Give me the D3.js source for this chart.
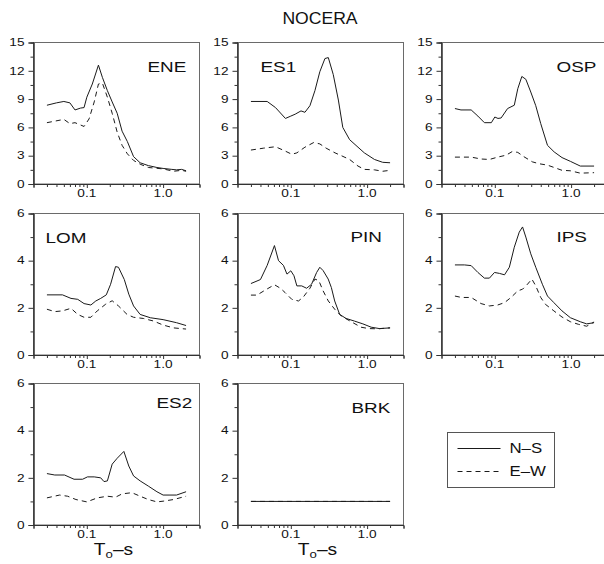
<!DOCTYPE html>
<html>
<head>
<meta charset="utf-8">
<script src="https://cdn.jsdelivr.net/npm/d3@7"></script>
<style>
  body { margin: 0; background: #fff; }
  svg { display: block; font-family: "Liberation Sans", Arial, Helvetica, sans-serif; }
</style>
</head>
<body>
<svg id="chart" width="604" height="564"></svg>
<script>
// Spectral ratios per station: [period (s), amplitude]
const ENE_NS = [[0.03,8.35],[0.04,8.6],[0.05,8.75],[0.06,8.6],[0.07,7.85],[0.083,8.05],[0.092,8.1],[0.1,9.2],[0.118,10.6],[0.142,12.6],[0.16,11.3],[0.186,9.9],[0.215,8.7],[0.25,7.5],[0.29,5.6],[0.34,4.5],[0.41,2.9],[0.5,2.25],[0.64,1.95],[0.83,1.75],[1.0,1.65],[1.3,1.55],[1.5,1.5],[1.75,1.55],[2.0,1.4]];
const ENE_EW = [[0.03,6.5],[0.05,6.85],[0.06,6.4],[0.07,6.5],[0.092,6.1],[0.107,6.9],[0.125,8.7],[0.142,10.6],[0.16,10.7],[0.186,9.2],[0.215,7.5],[0.25,5.5],[0.29,4.1],[0.34,3.2],[0.41,2.5],[0.5,2.1],[0.64,1.75],[1.0,1.6],[1.37,1.35],[1.75,1.45],[2.0,1.35]];
const ES1_NS = [[0.03,8.75],[0.049,8.75],[0.063,8.1],[0.085,6.95],[0.1,7.2],[0.114,7.4],[0.136,7.75],[0.153,7.6],[0.178,8.3],[0.207,9.9],[0.24,11.9],[0.28,13.3],[0.31,13.4],[0.36,11.6],[0.42,8.9],[0.48,6.0],[0.59,4.7],[0.76,3.9],[0.92,3.3],[1.25,2.6],[1.6,2.3],[2.0,2.25]];
const ES1_EW = [[0.03,3.6],[0.044,3.8],[0.063,3.95],[0.084,3.5],[0.103,3.15],[0.12,3.3],[0.153,3.9],[0.2,4.4],[0.24,4.25],[0.29,3.8],[0.38,3.3],[0.46,3.0],[0.59,2.6],[0.76,1.9],[0.92,1.55],[1.25,1.5],[1.6,1.35],[2.0,1.45]];
const OSP_NS = [[0.03,8.0],[0.036,7.85],[0.049,7.85],[0.06,7.2],[0.073,6.5],[0.09,6.5],[0.1,7.1],[0.11,6.95],[0.121,7.0],[0.147,8.0],[0.18,8.35],[0.2,10.1],[0.226,11.4],[0.255,11.1],[0.296,9.75],[0.344,8.3],[0.4,6.4],[0.49,4.1],[0.6,3.4],[0.76,2.8],[0.98,2.4],[1.32,1.9],[2.0,1.9]];
const OSP_EW = [[0.03,2.85],[0.049,2.85],[0.066,2.65],[0.085,2.6],[0.109,2.85],[0.14,3.05],[0.17,3.45],[0.2,3.35],[0.24,2.9],[0.31,2.35],[0.38,2.15],[0.49,2.0],[0.6,1.75],[0.76,1.45],[0.98,1.4],[1.32,1.15],[2.0,1.2]];
const LOM_NS = [[0.03,2.55],[0.048,2.55],[0.062,2.4],[0.076,2.36],[0.092,2.18],[0.113,2.12],[0.131,2.29],[0.152,2.4],[0.18,2.55],[0.205,3.0],[0.238,3.75],[0.26,3.72],[0.31,3.2],[0.355,2.58],[0.41,2.08],[0.5,1.72],[0.68,1.58],[1.0,1.5],[1.5,1.37],[2.0,1.25]];
const LOM_EW = [[0.03,1.94],[0.038,1.84],[0.048,1.87],[0.062,1.98],[0.076,1.72],[0.092,1.6],[0.113,1.6],[0.137,1.87],[0.176,2.15],[0.215,2.3],[0.26,2.08],[0.337,1.72],[0.41,1.6],[0.55,1.55],[0.75,1.44],[1.0,1.27],[1.37,1.15],[2.0,1.1]];
const PIN_NS = [[0.03,3.03],[0.04,3.2],[0.049,3.8],[0.061,4.64],[0.069,4.0],[0.08,3.8],[0.089,3.43],[0.1,3.57],[0.11,3.36],[0.12,2.93],[0.139,2.93],[0.161,2.83],[0.187,3.0],[0.218,3.5],[0.24,3.72],[0.265,3.58],[0.309,3.22],[0.34,2.86],[0.376,2.29],[0.437,1.72],[0.53,1.55],[0.68,1.44],[0.88,1.32],[1.13,1.18],[1.45,1.12],[2.0,1.15]];
const PIN_EW = [[0.03,2.54],[0.036,2.54],[0.046,2.75],[0.061,2.98],[0.073,2.83],[0.084,2.65],[0.103,2.36],[0.126,2.29],[0.146,2.46],[0.178,2.83],[0.207,3.22],[0.233,3.15],[0.265,2.72],[0.31,2.29],[0.376,1.94],[0.46,1.65],[0.62,1.41],[0.83,1.18],[1.05,1.12],[1.37,1.11],[2.0,1.15]];
const IPS_NS = [[0.03,3.82],[0.04,3.82],[0.049,3.79],[0.06,3.5],[0.073,3.26],[0.085,3.26],[0.099,3.5],[0.115,3.46],[0.134,3.4],[0.155,3.72],[0.18,4.57],[0.209,5.21],[0.231,5.43],[0.255,5.0],[0.296,4.29],[0.344,3.72],[0.42,3.0],[0.49,2.5],[0.595,2.22],[0.76,1.87],[0.98,1.58],[1.32,1.41],[1.6,1.32],[2.0,1.37]];
const IPS_EW = [[0.03,2.5],[0.0365,2.44],[0.049,2.44],[0.066,2.18],[0.085,2.08],[0.109,2.12],[0.134,2.22],[0.163,2.44],[0.2,2.72],[0.231,2.79],[0.268,3.0],[0.306,3.22],[0.344,2.93],[0.4,2.44],[0.46,2.15],[0.595,1.87],[0.76,1.61],[0.98,1.41],[1.25,1.3],[1.6,1.22],[2.0,1.4]];
const ES2_NS = [[0.03,2.18],[0.038,2.12],[0.051,2.12],[0.068,1.94],[0.088,1.94],[0.102,2.04],[0.125,2.04],[0.152,2.0],[0.168,1.84],[0.186,1.87],[0.215,2.58],[0.25,2.83],[0.306,3.12],[0.355,2.5],[0.41,2.08],[0.5,1.87],[0.64,1.65],[0.83,1.41],[1.0,1.27],[1.23,1.27],[1.5,1.27],[2.0,1.41]];
const ES2_EW = [[0.03,1.15],[0.044,1.27],[0.056,1.22],[0.072,1.08],[0.1,0.98],[0.137,1.15],[0.186,1.22],[0.238,1.18],[0.29,1.32],[0.39,1.37],[0.5,1.22],[0.64,1.08],[0.83,0.98],[1.0,1.01],[1.37,1.08],[2.0,1.22]];
const BRK_NS = [[0.03,1.0],[2.0,1.0]];
const BRK_EW = [[0.03,1.0],[2.0,1.0]];

const stations = ["ENE","ES1","OSP","LOM","PIN","IPS","ES2","BRK"];
const nsSeries = [ENE_NS, ES1_NS, OSP_NS, LOM_NS, PIN_NS, IPS_NS, ES2_NS, BRK_NS];
const ewSeries = [ENE_EW, ES1_EW, OSP_EW, LOM_EW, PIN_EW, IPS_EW, ES2_EW, BRK_EW];
const yMaxima = [15, 15, 15, 6, 6, 6, 6, 6];

const periodMajor = [0.1, 1];
const periodMajorLabels = ["0.1", "1.0"];
const periodMinor = [0.03,0.04,0.05,0.06,0.07,0.08,0.09,0.2,0.3,0.4,0.5,0.6,0.7,0.8,0.9,2];
const ampMajor15 = [0, 3, 6, 9, 12, 15];
const ampMinor15 = [1.5, 4.5, 7.5, 10.5, 13.5];
const ampMajor6 = [0, 2, 4, 6];
const ampMinor6 = [1, 3, 5];

const legendLabels = ["N\u2013S", "E\u2013W"];

// Layout
const colLeft = [33, 237, 441];
const rowTop = [42, 213, 383];
const panelW = 166, panelH = 141.5;
const labelPos = [[114,30],[23,30],[115,30],[12,30],[113,29],[115,29],[123,25],[114,30]];
const dashPattern = "5,4";
const lineColor = "#1a1a1a";
const frameColor = "#6a6a6a";
const axisColor = "#333";

const svg = d3.select("#chart");

// widen glyphs horizontally while keeping the anchor point fixed
function stretch(sel, sx) {
  sel.attr("transform", function () {
    const x = +this.getAttribute("x") || 0;
    return `translate(${x * (1 - sx)},0) scale(${sx},1)`;
  });
}

const x = d3.scaleLog().domain([0.02, 3]).range([0, panelW]);

stations.forEach((name, i) => {
  const col = i % 3, row = Math.floor(i / 3);
  const g = svg.append("g")
    .attr("transform", `translate(${colLeft[col] + 0.5},${rowTop[row] + 0.5})`);
  const yMax = yMaxima[i];
  const y = d3.scaleLinear().domain([0, yMax]).range([panelH, 0]);
  const major = yMax === 15 ? ampMajor15 : ampMajor6;
  const minor = yMax === 15 ? ampMinor15 : ampMinor6;

  // frame
  g.append("rect").attr("width", panelW).attr("height", panelH)
    .attr("fill", "none").attr("stroke", frameColor).attr("stroke-width", 1);

  // bottom axis ticks
  const xMinorAxis = g.append("g").attr("transform", `translate(0,${panelH})`)
    .call(d3.axisBottom(x).tickValues(periodMinor).tickSize(3).tickFormat(""));
  const xMajorAxis = g.append("g").attr("transform", `translate(0,${panelH})`)
    .call(d3.axisBottom(x).tickValues(periodMajor).tickSize(4).tickFormat(""));
  [xMinorAxis, xMajorAxis].forEach(a => {
    a.select(".domain").attr("stroke", axisColor);
    a.selectAll(".tick line").attr("stroke", axisColor);
  });

  // left axis ticks
  const yMinorAxis = g.append("g")
    .call(d3.axisLeft(y).tickValues(minor).tickSize(3).tickFormat(""));
  const yMajorAxis = g.append("g")
    .call(d3.axisLeft(y).tickValues(major).tickSize(5).tickFormat(""));
  [yMinorAxis, yMajorAxis].forEach(a => {
    a.select(".domain").attr("stroke", axisColor);
    a.selectAll(".tick line").attr("stroke", axisColor);
  });

  // tick labels
  g.selectAll("text.xl").data(periodMajor).enter().append("text")
    .attr("class", "xl")
    .attr("x", d => x(d)).attr("y", panelH + 13)
    .attr("text-anchor", "middle").attr("font-size", 10.5).attr("fill", "#111")
    .text((d, k) => periodMajorLabels[k])
    .call(stretch, 1.3);
  g.selectAll("text.yl").data(major).enter().append("text")
    .attr("class", "yl")
    .attr("x", -9).attr("y", d => y(d) + 3.8)
    .attr("text-anchor", "end").attr("font-size", 10.5).attr("fill", "#111")
    .text(d => d)
    .call(stretch, 1.3);

  // series
  const line = d3.line().x(d => x(d[0])).y(d => y(d[1]));
  g.append("path").datum(ewSeries[i]).attr("d", line)
    .attr("fill", "none").attr("stroke", lineColor).attr("stroke-width", 1)
    .attr("stroke-dasharray", dashPattern);
  g.append("path").datum(nsSeries[i]).attr("d", line)
    .attr("fill", "none").attr("stroke", lineColor).attr("stroke-width", 1);

  // station name
  g.append("text")
    .attr("x", labelPos[i][0]).attr("y", labelPos[i][1])
    .attr("font-size", 14).attr("fill", "#111")
    .text(name)
    .call(stretch, 1.35);

  // period axis title under the bottom row
  if (row === 2) {
    const t = g.append("text")
      .attr("x", panelW / 2 - 3).attr("y", panelH + 30)
      .attr("text-anchor", "middle").attr("font-size", 16).attr("fill", "#111");
    t.append("tspan").text("T");
    t.append("tspan").attr("font-size", 11).attr("dy", 3).text("o");
    t.append("tspan").attr("dy", -3).text("\u2013s");
    t.call(stretch, 1.2);
  }
});

// title
svg.append("text")
  .attr("x", 320).attr("y", 24)
  .attr("text-anchor", "middle").attr("font-size", 16).attr("fill", "#111")
  .text("NOCERA")
  .call(stretch, 1.1);

// legend
const lg = svg.append("g").attr("transform", "translate(447.5,432.5)");
lg.append("rect").attr("width", 107).attr("height", 55)
  .attr("fill", "none").attr("stroke", "#555").attr("stroke-width", 1);
legendLabels.forEach((lab, k) => {
  const yy = 16 + k * 23;
  lg.append("line").attr("x1", 10).attr("x2", 53).attr("y1", yy).attr("y2", yy)
    .attr("stroke", lineColor).attr("stroke-width", 1)
    .attr("stroke-dasharray", k === 1 ? dashPattern : null);
  lg.append("text").attr("x", 62).attr("y", yy + 5)
    .attr("font-size", 14).attr("fill", "#111").text(lab)
    .call(stretch, 1.2);
});
</script>
</body>
</html>
